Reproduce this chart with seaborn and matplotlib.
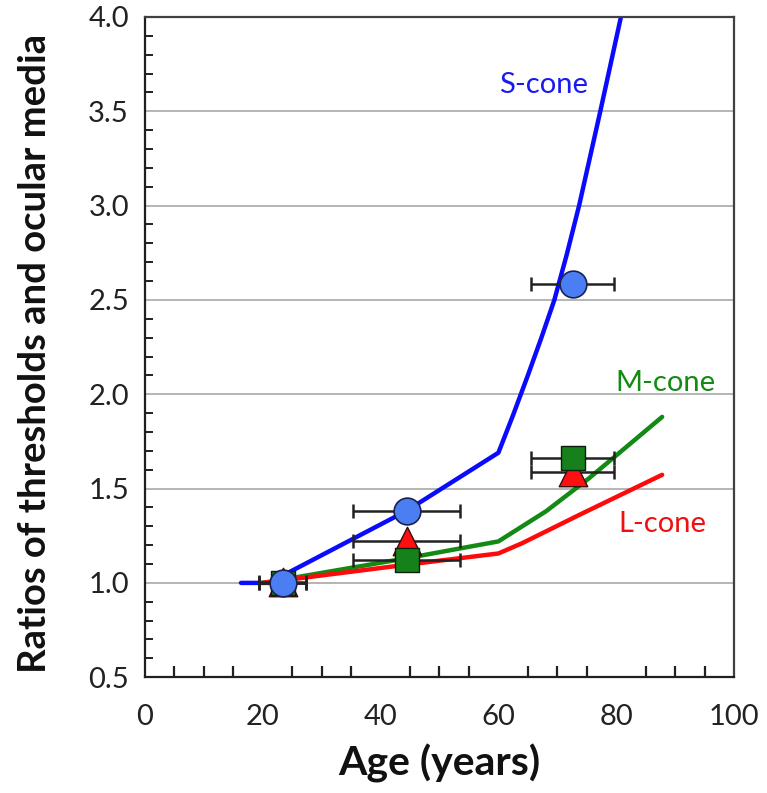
import matplotlib
matplotlib.use("Agg")
import matplotlib.pyplot as plt
from matplotlib.ticker import MultipleLocator, FormatStrFormatter
import seaborn as sns
import pandas as pd

# Model curves: threshold / ocular-media ratios versus age
s_age = [16.3, 21.0, 44.3, 60.0, 62.5, 65.0, 67.3, 69.5, 71.6, 73.7, 77.3, 80.8, 82.0]
s_ratio = [1.00, 1.00, 1.38, 1.69, 1.89, 2.10, 2.30, 2.50, 2.74, 3.00, 3.50, 4.00, 4.18]

m_age = [20.0, 25.7, 44.3, 60.0, 68.1, 75.4, 87.8]
m_ratio = [1.00, 1.03, 1.13, 1.22, 1.38, 1.555, 1.88]

l_age = [20.0, 44.3, 60.0, 64.0, 73.7, 87.8]
l_ratio = [1.00, 1.096, 1.156, 1.21, 1.36, 1.573]

# Measured group means with age ranges (horizontal error)
group_age = [23.4, 44.4, 72.6]
group_age_err = [4.0, 9.0, 7.0]
s_data = [1.00, 1.38, 2.585]
m_data = [1.00, 1.12, 1.66]
l_data = [1.005, 1.22, 1.59]

sns.set_theme(style="white")
plt.rcParams["font.family"] = ["Lato", "DejaVu Sans"]

fig = plt.figure(figsize=(7.67, 7.93), dpi=100)
ax = fig.add_axes([0.189, 0.146, 0.768, 0.8326])

curves = pd.concat([
    pd.DataFrame({"age": s_age, "ratio": s_ratio, "cone": "S"}),
    pd.DataFrame({"age": m_age, "ratio": m_ratio, "cone": "M"}),
    pd.DataFrame({"age": l_age, "ratio": l_ratio, "cone": "L"}),
])
line_colors = {"S": "#0a0aff", "M": "#138a13", "L": "#ff0a0a"}
sns.lineplot(data=curves, x="age", y="ratio", hue="cone", palette=line_colors,
             estimator=None, sort=False, linewidth=3.2, legend=False, ax=ax,
             zorder=2)

# Horizontal error bars
for vals in (l_data, m_data, s_data):
    ax.errorbar(group_age, vals, xerr=group_age_err, fmt="none",
                ecolor="#222222", elinewidth=1.8, capsize=5, capthick=1.8,
                zorder=3)

points = pd.DataFrame({"age": group_age, "L": l_data, "M": m_data, "S": s_data})
sns.scatterplot(data=points, x="age", y="L", marker="^", s=420,
                color="#ff1010", edgecolor="#3a0a0a", linewidth=1.0,
                ax=ax, zorder=4)
sns.scatterplot(data=points, x="age", y="M", marker="s", s=320,
                color="#16801a", edgecolor="#0a200a", linewidth=1.0,
                ax=ax, zorder=5)
sns.scatterplot(data=points, x="age", y="S", marker="o", s=370,
                color="#4a7ef2", edgecolor="#1a2250", linewidth=1.2,
                ax=ax, zorder=6)

ax.set_xlim(0, 100)
ax.set_ylim(0.5, 4.0)
ax.xaxis.set_major_locator(MultipleLocator(20))
ax.xaxis.set_minor_locator(MultipleLocator(5))
ax.yaxis.set_major_locator(MultipleLocator(0.5))
ax.yaxis.set_minor_locator(MultipleLocator(0.1))
ax.yaxis.set_major_formatter(FormatStrFormatter("%.1f"))

for y in [1.0, 1.5, 2.0, 2.5, 3.0, 3.5]:
    ax.axhline(y, color="#b4b4b4", linewidth=1.4, zorder=1)

for side in ["left", "bottom", "top", "right"]:
    ax.spines[side].set_visible(True)
    ax.spines[side].set_color("#202020")
    ax.spines[side].set_linewidth(1.6)
ax.spines["top"].set_color("#404040")
ax.spines["right"].set_color("#404040")

ax.tick_params(which="major", direction="inout", length=20, width=1.6,
               color="#202020", labelsize=21, labelcolor="#222222")
ax.tick_params(axis="x", which="major", pad=9)
ax.tick_params(axis="y", which="major", length=17, pad=3)
ax.tick_params(axis="x", which="minor", direction="in", length=8, width=1.6,
               color="#202020", bottom=True)
ax.tick_params(axis="y", which="minor", direction="in", length=6, width=1.4,
               color="#202020", left=True)

ax.set_xlabel("Age (years)", fontsize=29.5, fontweight="bold", color="#111111",
              labelpad=10)
ax.set_ylabel("Ratios of thresholds and ocular media", fontsize=27.5,
              fontweight="bold", color="#111111", labelpad=22)
ax.yaxis.set_label_coords(-0.158, 0.49)
ax.yaxis.label.set_va("bottom")

ax.text(67.6, 3.64, "S-cone", color="#1a1aee", fontsize=21,
        ha="center", va="center")
ax.text(88.3, 2.06, "M-cone", color="#138a13", fontsize=21,
        ha="center", va="center")
ax.text(87.9, 1.31, "L-cone", color="#ee1010", fontsize=21,
        ha="center", va="center")

fig.savefig("out.png", dpi=100)
